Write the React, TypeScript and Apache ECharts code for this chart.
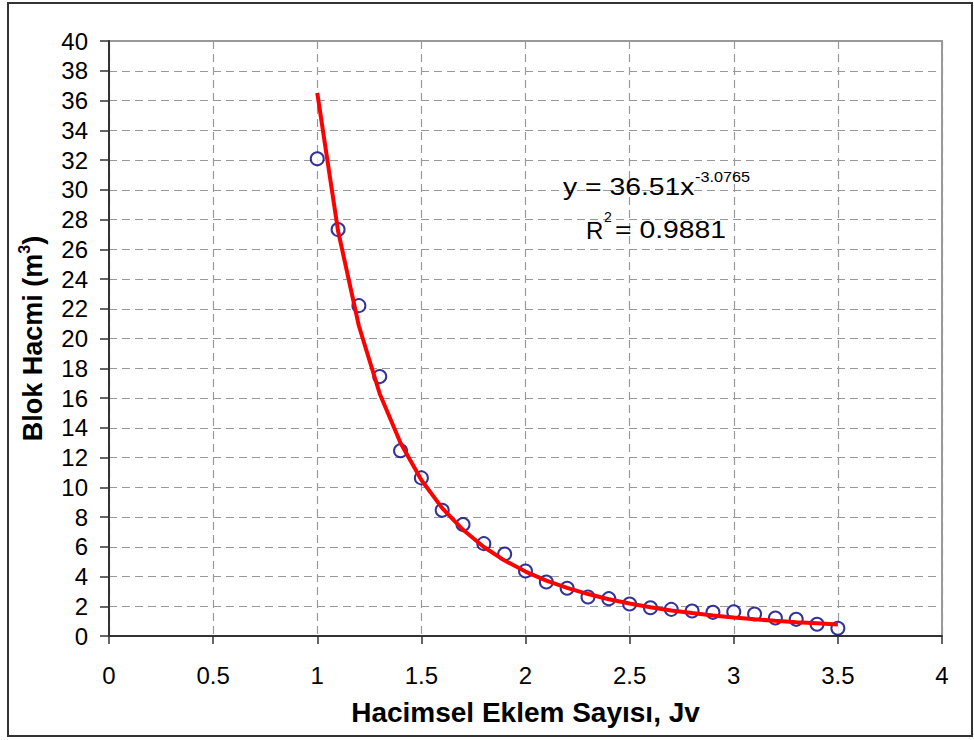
import React, { useEffect, useRef } from 'react';
import * as echarts from 'echarts';

const jv = [1.0, 1.1, 1.2, 1.3, 1.4, 1.5, 1.6, 1.7, 1.8, 1.9, 2.0, 2.1, 2.2, 2.3, 2.4, 2.5, 2.6, 2.7, 2.8, 2.9, 3.0, 3.1, 3.2, 3.3, 3.4, 3.5];
const blockVolume = [32.08, 27.32, 22.21, 17.44, 12.46, 10.63, 8.45, 7.49, 6.21, 5.51, 4.37, 3.63, 3.21, 2.62, 2.51, 2.15, 1.9, 1.79, 1.68, 1.59, 1.63, 1.48, 1.21, 1.12, 0.79, 0.52];
const trendVolume = [36.51, 27.23, 20.84, 16.29, 12.97, 10.49, 8.6, 7.14, 5.98, 5.07, 4.33, 3.72, 3.23, 2.82, 2.47, 2.18, 1.93, 1.72, 1.54, 1.38, 1.24, 1.12, 1.02, 0.93, 0.85, 0.77];

const xTitle = 'Hacimsel Eklem Sayısı, Jv';
const yTitle = 'Blok Hacmi (m{sup|3})';
const eqMain = 'y = 36.51x';
const eqExp = '-3.0765';
const r2Label = 'R';
const r2Sup = '2';
const r2Value = '= 0.9881';

const FONT = '"Liberation Sans", Arial, sans-serif';

export default function App() {
  const ref = useRef<HTMLDivElement>(null);
  useEffect(() => {
    const chart = echarts.init(ref.current!, null, { renderer: 'svg' });
    const txt = (text: string, x: number, y: number, size: number, sx: number) => ({
      type: 'text',
      x,
      y,
      scaleX: sx,
      z: 100,
      style: {
        text,
        x: 0,
        y: 0,
        fontSize: size,
        fontFamily: FONT,
        fill: '#000',
        textAlign: 'left',
        textVerticalAlign: 'middle',
      },
    });
    chart.setOption({
      animation: false,
      backgroundColor: '#fff',
      grid: {
        left: 109,
        right: 32,
        top: 41,
        bottom: 104,
        show: true,
        borderColor: '#999',
        borderWidth: 2,
        backgroundColor: 'transparent',
      },
      xAxis: {
        type: 'value',
        min: 0,
        max: 4,
        interval: 0.5,
        name: xTitle,
        nameLocation: 'middle',
        nameGap: 62,
        nameTextStyle: { fontSize: 28, fontWeight: 'bold', fontFamily: FONT, color: '#000' },
        axisLine: { show: true, lineStyle: { color: '#333', width: 2 } },
        axisTick: { show: true, inside: false, length: 8, lineStyle: { color: '#333', width: 1.5 } },
        axisLabel: { margin: 27, fontSize: 24, fontFamily: FONT, color: '#000' },
        splitLine: { show: true, lineStyle: { color: '#999', width: 1.2, type: [8, 5] } },
      },
      yAxis: {
        type: 'value',
        min: 0,
        max: 40,
        interval: 2,
        name: yTitle,
        nameLocation: 'middle',
        nameGap: 58,
        nameRotate: 90,
        nameTextStyle: {
          fontSize: 27,
          fontWeight: 'bold',
          fontFamily: FONT,
          color: '#000',
          lineHeight: 34,
          rich: {
            sup: { fontSize: 16, fontWeight: 'bold', fontFamily: FONT, color: '#000', lineHeight: 14, verticalAlign: 'top' },
          },
        },
        axisLine: { show: true, lineStyle: { color: '#333', width: 2 } },
        axisTick: { show: true, inside: false, length: 9, lineStyle: { color: '#333', width: 1.5 } },
        axisLabel: { margin: 21, fontSize: 24, fontFamily: FONT, color: '#000' },
        splitLine: { show: true, lineStyle: { color: '#999', width: 1.2, type: [8, 5] } },
      },
      graphic: [
        {
          type: 'rect',
          shape: { x: 8, y: 3, width: 964, height: 733 },
          style: { fill: 'none', stroke: '#333', lineWidth: 2 },
          silent: true,
        },
        txt(eqMain, 563, 187, 24, 1.18),
        txt(eqExp, 695, 177, 14.5, 1.12),
        txt(r2Label, 586, 230, 24, 1.0),
        txt(r2Sup, 604, 217, 14, 1.0),
        txt(r2Value, 615, 230, 24, 1.18),
      ],
      series: [
        {
          type: 'scatter',
          data: jv.map((x, i) => [x, blockVolume[i]]),
          symbol: 'emptyCircle',
          symbolSize: 13,
          itemStyle: { color: '#000080', borderColor: '#000080', borderWidth: 1.6 },
          z: 2,
        },
        {
          type: 'line',
          data: jv.map((x, i) => [x, trendVolume[i]]),
          symbol: 'none',
          showSymbol: false,
          lineStyle: { color: '#ff0000', width: 4 },
          z: 3,
        },
      ],
    });
    return () => chart.dispose();
  }, []);
  return (
    <div
      ref={ref}
      style={{ position: 'absolute', left: 0, top: 0, width: 974, height: 740, background: '#fff' }}
    />
  );
}
